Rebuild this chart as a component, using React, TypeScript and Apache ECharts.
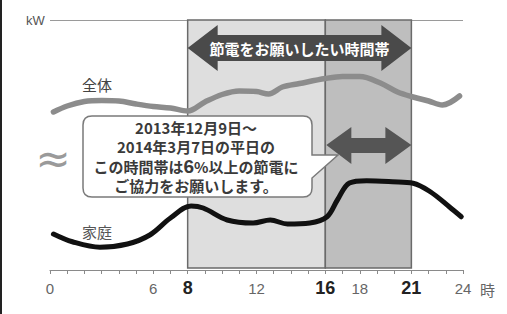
import React, { useEffect, useRef } from "react";
import * as echarts from "echarts";

// Hours (x) and relative demand (y, arbitrary units 0-100)
const totalHours = [0.2, 1, 2, 3, 4, 5, 6, 7, 8, 9, 10, 11, 12, 12.7, 13.5, 14.5, 16, 17, 18, 19.2, 20.2, 21.1, 22, 22.8, 23.8];
const totalValues = [63.2, 65.6, 67.4, 67.8, 67.6, 66.4, 65.4, 64.8, 63.6, 67.2, 70.2, 71.6, 71.4, 70.4, 73.2, 74.6, 76.6, 77.4, 77.4, 74.8, 71.2, 69.2, 67.6, 66, 69.6];

const homeHours = [0.2, 1.3, 2.9, 4.5, 5.8, 7, 8.2, 8.9, 10.3, 11.8, 12.8, 13.8, 15.1, 16.1, 16.7, 17.4, 18.4, 19.9, 21.1, 22.1, 23.2, 23.9];
const homeValues = [14.4, 11.3, 9.1, 10.4, 14, 20.8, 25.6, 24.8, 20, 18.8, 20, 18.4, 18.8, 21.3, 28, 34.8, 35.7, 35.3, 34.7, 31.3, 25.3, 21.3];

const tickLabels = [0, 6, 8, 12, 16, 18, 21, 24];
const boldTicks = [8, 16, 21];
const peakPeriod = [8, 16];
const corePeriod = [16, 21];

const calloutLines = [
  "2013年12月9日～",
  "2014年3月7日の平日の",
  "この時間帯は{b|6}%以上の節電に",
  "ご協力をお願いします。",
];

const CJK = '"Noto Sans CJK JP", "Noto Sans", sans-serif';
const LAT = '"Liberation Sans", "Noto Sans CJK JP", sans-serif';

let registered = false;
function registerShapes() {
  if (registered) return;
  registered = true;
  const d =
    "M92,116 H303 Q312,116 312,125 V155 L338,155 L312,178 V188 Q312,197 303,197 H92 Q83,197 83,188 V125 Q83,116 92,116 Z";
  echarts.graphic.registerShape("callout", (echarts.graphic as any).extendPath(d, {}));
}

export default function App() {
  const ref = useRef<HTMLDivElement>(null);
  useEffect(() => {
    document.body.style.margin = "0";
    registerShapes();
    const chart = echarts.init(ref.current!, null, { renderer: "svg" });
    const option: any = {
      animation: false,
      grid: { left: 50, right: 44, top: 20, bottom: 44, containLabel: false },
      xAxis: {
        type: "value",
        min: 0,
        max: 24,
        interval: 1,
        axisLine: { show: true, lineStyle: { color: "#8a8a8a", width: 1.2 } },
        axisTick: { show: true, length: 4, lineStyle: { color: "#8a8a8a" } },
        splitLine: { show: false },
        axisLabel: {
          margin: 9,
          showMinLabel: true,
          showMaxLabel: true,
          hideOverlap: false,
          formatter: (v: number) => {
            if (!tickLabels.includes(v)) return "";
            return boldTicks.includes(v) ? `{b|${v}}` : `{n|${v}}`;
          },
          rich: {
            n: { fontSize: 15, color: "#666", fontFamily: LAT, padding: [2, 0, 0, 0] },
            b: { fontSize: 18, color: "#222", fontWeight: "bold", fontFamily: LAT },
          },
        },
      },
      yAxis: {
        type: "value",
        min: 0,
        max: 100,
        interval: 100,
        axisLine: { show: false },
        axisTick: { show: false },
        axisLabel: { show: false },
        splitLine: { show: true, lineStyle: { color: "#9a9a9a", width: 1.2 } },
      },
      series: [
        {
          type: "line",
          name: "全体",
          data: totalHours.map((h, i) => [h, totalValues[i]]),
          smooth: 0.35,
          showSymbol: false,
          z: 5,
          lineStyle: { color: "#8c8c8c", width: 5.5, cap: "round" },
          markArea: {
            silent: true,
            itemStyle: { color: "#dedede", borderColor: "#6a6a6a", borderWidth: 1.5 },
            data: [
              [{ xAxis: peakPeriod[0], yAxis: 0.8 }, { xAxis: peakPeriod[1], yAxis: 100 }],
              [
                { xAxis: corePeriod[0], yAxis: 0.8, itemStyle: { color: "#bebebe", borderColor: "#6a6a6a", borderWidth: 1.5 } },
                { xAxis: corePeriod[1], yAxis: 100 },
              ],
            ],
          },
        },
        {
          type: "line",
          name: "家庭",
          data: homeHours.map((h, i) => [h, homeValues[i]]),
          smooth: 0.35,
          showSymbol: false,
          z: 6,
          lineStyle: { color: "#111", width: 5, cap: "round" },
        },
      ],
    };
    chart.setOption(option);

    const X = (h: number) => chart.convertToPixel({ xAxisIndex: 0 }, h) as number;
    const x8 = X(peakPeriod[0]);
    const x16 = X(corePeriod[0]);
    const x21 = X(corePeriod[1]);
    const hw = 30;
    const bigArrow = [
      [x8, 48], [x8 + hw, 25], [x8 + hw, 35], [x21 - hw, 35], [x21 - hw, 25], [x21, 48],
      [x21 - hw, 71], [x21 - hw, 61], [x8 + hw, 61], [x8 + hw, 71],
    ];
    const sw = 26;
    const smallArrow = [
      [x16 + 1, 145], [x16 + sw, 127], [x16 + sw, 138], [x21 - sw, 138], [x21 - sw, 127], [x21, 145],
      [x21 - sw, 164], [x21 - sw, 153], [x16 + sw, 153], [x16 + sw, 164],
    ];
    const lineYs = [127, 146.5, 166, 185];

    chart.setOption({
      graphic: [
        { type: "rect", z: 100, shape: { x: 0, y: 0, width: 2, height: 314 }, style: { fill: "#222" } },
        { type: "text", z: 100, x: 26, y: 20, style: { text: "kW", fontSize: 13, fill: "#555", fontFamily: LAT, verticalAlign: "middle" } },
        { type: "text", z: 100, x: 480, y: 289, style: { text: "時", fontSize: 15, fill: "#666", fontFamily: CJK, verticalAlign: "middle" } },
        { type: "polygon", z: 100, shape: { points: bigArrow }, style: { fill: "#4a4a4a" } },
        {
          type: "text", z: 101, x: (x8 + x21) / 2, y: 48,
          style: { text: "節電をお願いしたい時間帯", fontSize: 15, fontWeight: "bold", fill: "#fff", fontFamily: CJK, align: "center", verticalAlign: "middle" },
        },
        { type: "polygon", z: 100, shape: { points: smallArrow }, style: { fill: "#555" } },
        { type: "callout", z: 100, x: 0, y: 0, style: { fill: "#fff", stroke: "#7a7a7a", lineWidth: 1.5 } },
        ...calloutLines.map((t, i) => ({
          type: "text", z: 101, x: 196, y: lineYs[i],
          style: {
            text: t,
            fontSize: 15, lineHeight: 17, fill: "#3a3a3a", fontWeight: "bold", fontFamily: CJK,
            align: "center", verticalAlign: "middle",
            rich: { b: { fontSize: 19, fill: "#3a3a3a", fontWeight: "bold", fontFamily: LAT, lineHeight: 17 } },
          },
        })),
        { type: "text", z: 100, x: 82, y: 84, style: { text: "全体", fontSize: 15, fill: "#444", fontFamily: CJK, verticalAlign: "middle" } },
        { type: "text", z: 100, x: 82, y: 231, style: { text: "家庭", fontSize: 15, fill: "#555", fontFamily: CJK, verticalAlign: "middle" } },
        { type: "text", z: 100, x: 53, y: 158, style: { text: "≈", fontSize: 42, fill: "#9a9a9a", fontFamily: '"DejaVu Sans", sans-serif', align: "center", verticalAlign: "middle" } },
      ],
    });

    return () => chart.dispose();
  }, []);
  return <div ref={ref} style={{ width: 507, height: 314 }} />;
}
